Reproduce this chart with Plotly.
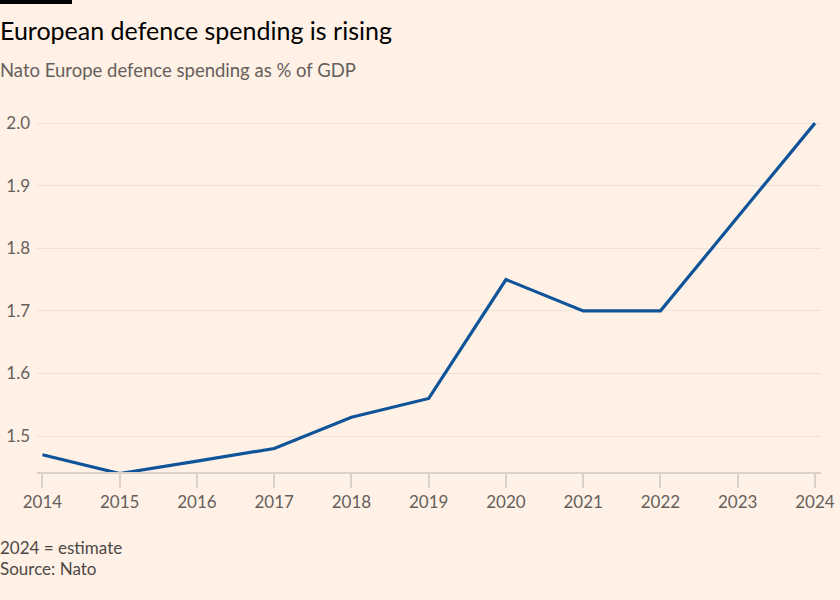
import plotly.graph_objects as go

years = [2014, 2015, 2016, 2017, 2018, 2019, 2020, 2021, 2022, 2023, 2024]
spending_pct_gdp = [1.47, 1.44, 1.46, 1.48, 1.53, 1.56, 1.75, 1.70, 1.70, 1.85, 2.00]
y_ticks = [1.5, 1.6, 1.7, 1.8, 1.9, 2.0]
y_tick_labels = ["1.5", "1.6", "1.7", "1.8", "1.9", "2.0"]

title = "European defence spending is rising"
subtitle = "Nato Europe defence spending as % of GDP"
note = "2024 = estimate"
source = "Source: Nato"

BG = "#fff1e5"
FONT = "Lato, 'Open Sans', sans-serif"

L, R, T, B = 37, 19, 110, 128
W, H = 840, 600

fig = go.Figure()
fig.add_trace(go.Scatter(
    x=years, y=spending_pct_gdp, mode="lines",
    line=dict(color="#0f5499", width=3.2),
    hoverinfo="x+y", showlegend=False, cliponaxis=False,
))

fig.update_layout(
    width=W, height=H,
    paper_bgcolor=BG, plot_bgcolor=BG,
    margin=dict(l=L, r=R, t=T, b=B, autoexpand=False),
    font=dict(family=FONT, color="#66605c"),
    xaxis=dict(
        range=[2013.929, 2024.078],
        tickvals=years, ticktext=[str(y) for y in years],
        showgrid=False, zeroline=False, automargin=False,
        showline=True, linecolor="#d9d1ca", linewidth=1.5,
        ticks="outside", ticklen=14, tickcolor="#d9d1ca", tickwidth=1.5,
        tickfont=dict(size=17, color="#66605c"),
        fixedrange=True,
    ),
    yaxis=dict(
        range=[1.4425, 2.021],
        tickvals=y_ticks, ticktext=y_tick_labels,
        showgrid=True, gridcolor="#ebe2d9", gridwidth=1.2,
        zeroline=False, showline=False, ticks="", automargin=False,
        tickfont=dict(size=17, color="#66605c"),
        ticklabelstandoff=6,
        fixedrange=True,
    ),
)

plot_w = W - L - R
plot_h = H - T - B


def px(xp):
    return (xp - L) / plot_w


def py(yp):
    return (H - B - yp) / plot_h


fig.add_shape(type="rect", xref="paper", yref="paper",
              x0=px(0), x1=px(72), y0=py(4), y1=py(0),
              fillcolor="#000000", line=dict(width=0), layer="above")

fig.add_annotation(text=title, xref="paper", yref="paper",
                   x=px(-2), y=py(30), xanchor="left", yanchor="middle",
                   showarrow=False, font=dict(size=25, color="#000000", family=FONT))
fig.add_annotation(text=subtitle, xref="paper", yref="paper",
                   x=px(-2), y=py(70), xanchor="left", yanchor="middle",
                   showarrow=False, font=dict(size=18.5, color="#66605c", family=FONT))
fig.add_annotation(text=note, xref="paper", yref="paper",
                   x=px(-2), y=py(547), xanchor="left", yanchor="middle",
                   showarrow=False, font=dict(size=17, color="#4d4845", family=FONT))
fig.add_annotation(text=source, xref="paper", yref="paper",
                   x=px(-2), y=py(568), xanchor="left", yanchor="middle",
                   showarrow=False, font=dict(size=17, color="#4d4845", family=FONT))

fig.write_html("out.html", config={"displayModeBar": False},
               post_script="document.body.style.margin='0';document.body.style.background='" + BG + "';")
